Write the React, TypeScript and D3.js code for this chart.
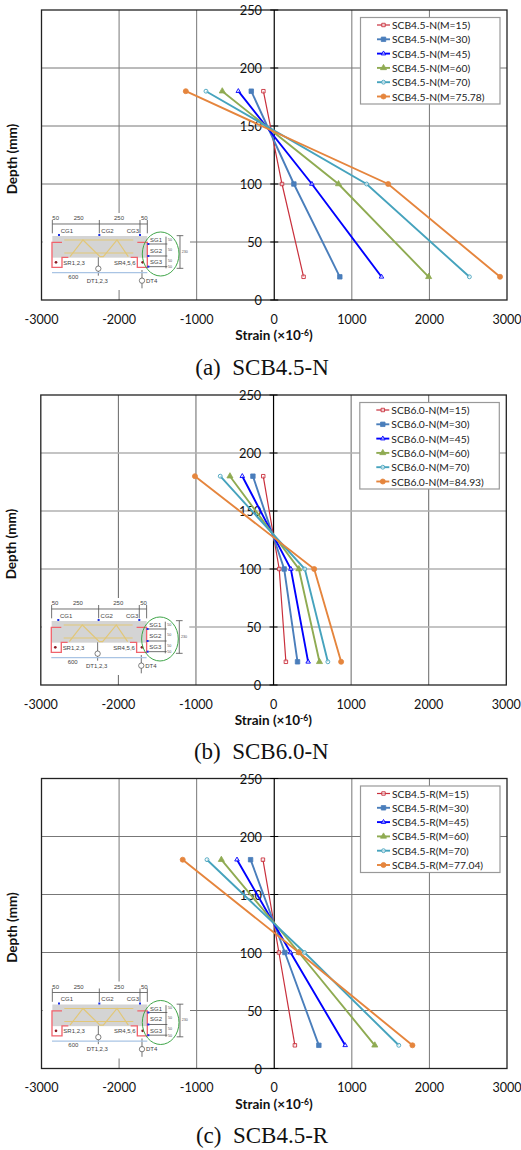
import React from 'react';
import * as d3 from 'd3';

const depths = [180, 100, 20];
const xTicks = [-3000, -2000, -1000, 0, 1000, 2000, 3000];
const yTicks = [0, 50, 100, 150, 200, 250];

const loads_a = ['15', '30', '45', '60', '70', '75.78'];
const strain_a = [
  [-140, 100, 378],
  [-296, 253, 845],
  [-463, 485, 1382],
  [-670, 828, 1990],
  [-880, 1190, 2515],
  [-1140, 1468, 2910],
];
const loads_b = ['15', '30', '45', '60', '70', '84.93'];
const strain_b = [
  [-133, 73, 159],
  [-266, 137, 309],
  [-403, 223, 446],
  [-562, 326, 592],
  [-687, 403, 700],
  [-1013, 524, 871],
];
const loads_c = ['15', '30', '45', '60', '70', '77.04'];
const strain_c = [
  [-146, 60, 266],
  [-305, 137, 575],
  [-480, 210, 914],
  [-682, 318, 1296],
  [-867, 390, 1605],
  [-1180, 318, 1781],
];

const colours = ['#c9303c', '#4a7ebb', '#0000ff', '#8fab52', '#46a3bd', '#e5853d'];
const widths = [1.2, 1.9, 1.9, 1.9, 1.9, 1.9];
const symbols = [d3.symbolSquare, d3.symbolSquare, d3.symbolTriangle, d3.symbolTriangle, d3.symbolCircle, d3.symbolCircle];
const filled = [false, true, false, true, false, true];
const symbolSizes = [12, 20, 9, 16, 12, 20];

const panels = [
  { name: 'SCB4.5-N', label: '(a)  SCB4.5-N', loads: loads_a, strain: strain_a, hGrid: '#777', vGrid: '#777', gridW: 1, dx: 0, dy: 0, capY: 375 },
  { name: 'SCB6.0-N', label: '(b)  SCB6.0-N', loads: loads_b, strain: strain_b, hGrid: '#b0b0b0', vGrid: '#666', gridW: 1.3, dx: -0.7, dy: 385, capY: 374 },
  { name: 'SCB4.5-R', label: '(c)  SCB4.5-R', loads: loads_c, strain: strain_c, hGrid: '#777', vGrid: '#777', gridW: 1, dx: 0, dy: 768.5, capY: 374.5 },
];

const x = d3.scaleLinear().domain([-3000, 3000]).range([41.5, 507]);
const y = d3.scaleLinear().domain([0, 250]).range([300, 10]);
const tickFont = 'Lato, "Open Sans", sans-serif';

const Marker = ({ i, cx, cy }: { i: number; cx: number; cy: number }) => (
  <path
    d={d3.symbol().type(symbols[i]).size(symbolSizes[i])() as string}
    transform={`translate(${cx},${cy})`}
    fill={filled[i] ? colours[i] : '#ffffff'}
    fillOpacity={filled[i] ? 1 : 0.6}
    stroke={colours[i]}
    strokeWidth={filled[i] ? 0.8 : 0.9}
  />
);

// section sketch, drawn at 3x and scaled down
const Inset = () => {
  const small = { fontFamily: 'Liberation Sans, sans-serif', fontSize: 18, fill: '#444' };
  const poly = (pts: [number, number][]) => d3.line()(pts) as string;
  return (
    <g transform="translate(40,205) scale(0.3333)">
      <rect x={8} y={24} width={442} height={231} fill="#fff" />
      <rect x={37} y={93} width={285} height={65} fill="#d4d4d4" />
      <g fill="none" stroke="#e2c777" strokeWidth={3.5}>
        <path d={poly([[73, 105], [280, 105]])} />
        <path d={poly([[73, 144], [280, 144]])} />
        <path d={poly([[90, 155], [129, 105], [180, 155], [190, 155], [231, 105], [265, 155]])} />
      </g>
      <g fill="none" stroke="#f0636c" strokeWidth={4}>
        <path d={poly([[66, 112], [36, 112], [36, 187], [66, 187], [66, 157], [85, 157]])} />
        <path d={poly([[292, 112], [322, 112], [322, 187], [292, 187], [292, 157], [272, 157]])} />
      </g>
      <g fill="none" stroke="#555" strokeWidth={2.5}>
        <path d={poly([[37, 57], [322, 57]])} />
        {[37, 178, 300, 322].map(d => <path key={d} d={poly([[d, 45], [d, 85]])} />)}
        {[117, 153, 185].map(d => <path key={d} d={poly([[327, d], [382, d]])} />)}
        <path d={poly([[378, 95], [378, 190]])} />
        <path d={poly([[420, 92], [420, 190]])} />
        <path d={poly([[410, 92], [430, 92]])} />
        <path d={poly([[410, 190], [430, 190]])} />
        <path d={poly([[175, 157], [175, 212]])} />
        <path d={poly([[306, 195], [306, 250]])} />
      </g>
      <path d={poly([[36, 203], [322, 203]])} stroke="#a9c4e4" strokeWidth={4} fill="none" />
      <circle cx={175} cy={191} r={8} fill="#fff" stroke="#444" strokeWidth={2} />
      <circle cx={306} cy={227} r={8} fill="#fff" stroke="#444" strokeWidth={2} />
      {[[57, 90], [178, 90], [300, 90], [325, 117], [325, 153], [325, 185]].map(([a, b], i) => (
        <rect key={i} x={a - 3} y={b - 3} width={6} height={6} fill="#1a2ee6" />
      ))}
      {[[48, 172], [308, 172]].map(([a, b]) => <circle key={a} cx={a} cy={b} r={4} fill="#8c1c24" />)}
      <ellipse cx={362} cy={147} rx={55} ry={66} fill="none" stroke="#3fa548" strokeWidth={3} />
      {([
        ['50', 37, 46], ['250', 101, 46], ['250', 222, 46], ['50', 303, 46],
        ['CG1', 62, 83], ['CG2', 184, 83], ['CG3', 260, 83],
        ['SG1', 330, 112], ['SG2', 330, 144], ['SG3', 330, 178],
        ['SR1,2,3', 70, 180], ['SR4,5,6', 222, 180],
        ['600', 85, 222], ['DT1,2,3', 140, 233], ['DT4', 318, 233],
      ] as [string, number, number][]).map(([t, a, b], i) => (
        <text key={i} x={a} y={b} {...small}>{t}</text>
      ))}
      {([['50', 384, 108], ['50', 384, 138], ['50', 384, 170], ['50', 384, 190], ['230', 425, 144]] as [string, number, number][]).map(([t, a, b], i) => (
        <text key={i} x={a} y={b} fontFamily="Liberation Sans, sans-serif" fontSize={11} fill="#555">{t}</text>
      ))}
    </g>
  );
};

const Panel = ({ panel }: { panel: typeof panels[number] }) => {
  const line = d3.line<number>().x(d => x(d)).y((_, i) => y(depths[i]));
  return (
    <g transform={`translate(${panel.dx},${panel.dy})`}>
      {/* grid */}
      {xTicks.slice(1, -1).filter(d => d !== 0).map(d => (
        <line key={d} x1={x(d)} x2={x(d)} y1={y(250)} y2={y(0)} stroke={panel.vGrid} strokeWidth={1} />
      ))}
      {yTicks.slice(1, -1).map(d => (
        <line key={d} x1={x(-3000)} x2={x(3000)} y1={y(d)} y2={y(d)} stroke={panel.hGrid} strokeWidth={panel.gridW} />
      ))}
      <Inset />
      <rect x={x(-3000)} y={y(250)} width={x(3000) - x(-3000)} height={y(0) - y(250)} fill="none" stroke="#222" strokeWidth={1.3} />
      {/* axis at zero */}
      <line x1={x(0)} x2={x(0)} y1={y(250)} y2={y(0)} stroke="#000" strokeWidth={1.2} />
      {yTicks.map(d => (
        <g key={d}>
          <line x1={x(0) - 4} x2={x(0) + 4} y1={y(d)} y2={y(d)} stroke="#000" strokeWidth={1} />
          <text x={262} y={y(d)} textAnchor="end" dominantBaseline="central" fontFamily={tickFont} fontSize={12.8} fill="#111">{d}</text>
        </g>
      ))}
      {xTicks.map(d => (
        <text key={d} x={x(d)} y={323.5} textAnchor="middle" fontFamily={tickFont} fontSize={12.6} fill="#111">{d}</text>
      ))}
      {/* series */}
      {panel.strain.map((s, i) => (
        <g key={i}>
          <path d={line(s) as string} fill="none" stroke={colours[i]} strokeWidth={widths[i]} />
          {s.map((v, j) => <Marker key={j} i={i} cx={x(v)} cy={y(depths[j])} />)}
        </g>
      ))}
      {/* legend */}
      <rect x={360.5} y={17.5} width={139.5} height={86.5} fill="#fff" stroke="#999" strokeWidth={1.2} />
      {panel.loads.map((m, i) => {
        const rowY = 25 + i * 14.3;
        return (
          <g key={m}>
            <line x1={377} x2={390} y1={rowY} y2={rowY} stroke={colours[i]} strokeWidth={widths[i]} />
            <Marker i={i} cx={383.5} cy={rowY} />
            <text x={392} y={rowY} dominantBaseline="central" fontFamily={tickFont} fontSize={10.3} fill="#222">
              {`${panel.name}(M=${m})`}
            </text>
          </g>
        );
      })}
      {/* titles */}
      <text transform="translate(12,159) rotate(-90)" textAnchor="middle" dominantBaseline="central" fontFamily={tickFont} fontSize={13.5} fontWeight={700} fill="#111">Depth (mm)</text>
      <text x={274} y={340} textAnchor="middle" fontFamily={tickFont} fontSize={13.5} fontWeight={700} fill="#111">
        Strain (×10<tspan dy={-4} fontSize={8.5}>-6</tspan><tspan dy={4}>)</tspan>
      </text>
      <text x={262} y={panel.capY} textAnchor="middle" fontFamily="Liberation Serif, serif" fontSize={23} fill="#111" style={{ whiteSpace: 'pre' }}>{panel.label}</text>
    </g>
  );
};

export default function App() {
  return (
    <svg width={521} height={1150} style={{ position: 'absolute', left: 0, top: 0, background: '#fff' }}>
      {panels.map(p => <Panel key={p.name} panel={p} />)}
    </svg>
  );
}
